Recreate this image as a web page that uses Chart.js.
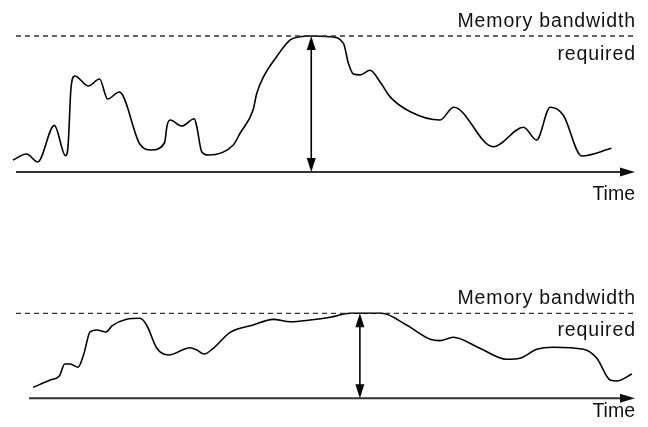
<!DOCTYPE html>
<html>
<head>
<meta charset="utf-8">
<script src="https://cdn.jsdelivr.net/npm/chart.js@4"></script>
<style>
  body { margin: 0; background: #fff; width: 648px; height: 427px; position: relative; overflow: hidden; }
  canvas { position: absolute; left: 0; }
  .lbl { position: absolute; right: 13px; font-family: "Liberation Sans", Arial, sans-serif; font-size: 19.5px; color: #111; line-height: 1; white-space: nowrap; }
  .wide { letter-spacing: 0.85px; margin-right: -0.85px; }
</style>
</head>
<body>
<canvas id="topChart" width="648" height="215" style="top:0"></canvas>
<canvas id="bottomChart" width="648" height="167" style="top:260px"></canvas>

<div class="lbl wide" style="top:11px">Memory bandwidth</div>
<div class="lbl wide" style="top:44px">required</div>
<div class="lbl" style="top:184px">Time</div>
<div class="lbl wide" style="top:288px">Memory bandwidth</div>
<div class="lbl wide" style="top:320px">required</div>
<div class="lbl" style="top:401px">Time</div>

<script>
// time (0-100) and bandwidth (0 = none, 100 = required peak)
const topTime = [-0.5, 1.7, 3.5, 6.2, 8.0, 8.4, 8.9, 9.5, 11.7, 13.5, 14.8, 16.7, 20.0, 21.9, 24.0, 24.4, 24.9,
  26.8, 28.8, 29.2, 30.0, 31.1, 35.1, 36.2, 38.3, 38.9, 40.0, 42.1, 44.3, 45.9, 47.7, 50.7, 52.9, 53.7,
  54.5, 55.6, 57.2, 58.8, 60.4, 63.7, 68.5, 70.7, 77.1, 82.0, 84.1, 86.3, 88.4, 91.4, 96.2];
const topBandwidth = [8.8, 13.2, 7.4, 34.3, 12.0, 18.5, 62.5, 70.6, 63.2, 68.4, 53.7, 58.8, 20.6, 16.2, 21.5, 34.0, 38.2,
  33.8, 39.2, 33.5, 14.9, 12.5, 19.9, 28.5, 45.6, 57.9, 70.1, 84.8, 97.1, 99.5, 100, 99.5, 94.6, 79.9,
  72.0, 71.4, 74.8, 66.4, 55.4, 44.3, 38.2, 47.6, 18.6, 32.9, 23.5, 47.6, 41.9, 11.8, 17.4];
const topPeakTime = 47.7;

const bottomTime = [0.7, 3.5, 5.0, 5.9, 6.8, 8.1, 9.0, 10.1, 11.2, 12.7, 13.7, 16.1, 18.3, 19.4, 21.1, 23.0,
  26.6, 27.7, 28.9, 30.4, 33.2, 37.0, 40.3, 43.1, 46.4, 49.7, 53.0, 58.2, 62.3, 66.2, 67.8, 70.0,
  74.4, 78.8, 81.0, 83.8, 86.5, 91.5, 93.7, 95.9, 97.0, 99.5];
const bottomBandwidth = [12.9, 21.5, 26.2, 40.4, 40.4, 36.5, 50.9, 78.4, 80.4, 78.0, 85.1, 92.9, 94.1, 86.2, 58.8, 50.9,
  59.5, 56.8, 52.1, 58.8, 77.6, 86.2, 92.9, 90.1, 92.1, 95.3, 100, 100, 86.2, 69.4, 67.8, 71.8,
  58.8, 45.9, 47.1, 57.6, 60.0, 57.6, 47.1, 21.5, 20.4, 28.6];
const bottomPeakTime = 54.6;

function toPoints(xs, ys) {
  return xs.map((x, i) => ({ x: x, y: ys[i] }));
}

function arrowHead(ctx, x, y, dx, dy, len, half) {
  // tip at (x,y), pointing along (dx,dy)
  ctx.beginPath();
  ctx.moveTo(x, y);
  ctx.lineTo(x - dx * len - dy * half, y - dy * len + dx * half);
  ctx.lineTo(x - dx * len + dy * half, y - dy * len - dx * half);
  ctx.closePath();
  ctx.fill();
}

const sketchPlugin = {
  id: 'sketch',
  afterDatasetsDraw(chart, args, opts) {
    const ctx = chart.ctx;
    const xs = chart.scales.x;
    const ys = chart.scales.y;
    const y0 = ys.getPixelForValue(0);
    const yMax = ys.getPixelForValue(100);
    const right = xs.getPixelForValue(100);
    ctx.save();

    // dashed "required" level
    ctx.strokeStyle = '#333';
    ctx.lineWidth = 1.3;
    ctx.setLineDash([5, 4]);
    ctx.beginPath();
    ctx.moveTo(opts.dashStart, yMax);
    ctx.lineTo(right, yMax);
    ctx.stroke();
    ctx.setLineDash([]);

    // time axis
    ctx.strokeStyle = '#333';
    ctx.fillStyle = '#111';
    ctx.lineWidth = 2;
    ctx.beginPath();
    ctx.moveTo(xs.getPixelForValue(0), y0);
    ctx.lineTo(right - 10, y0);
    ctx.stroke();
    arrowHead(ctx, right, y0, 1, 0, 15, 4.5);

    // double arrow at the peak
    const px = xs.getPixelForValue(opts.peak);
    ctx.strokeStyle = '#000';
    ctx.fillStyle = '#000';
    ctx.lineWidth = 1.6;
    ctx.beginPath();
    ctx.moveTo(px, yMax + 8);
    ctx.lineTo(px, y0 - 8);
    ctx.stroke();
    arrowHead(ctx, px, yMax, 0, -1, 14, 4.5);
    arrowHead(ctx, px, y0, 0, 1, 14, 4.5);
    ctx.restore();
  }
};

function makeChart(id, xs, ys, peak, padding, dashStart) {
  return new Chart(document.getElementById(id), {
    type: 'line',
    data: {
      datasets: [{
        data: toPoints(xs, ys),
        borderColor: '#000',
        borderWidth: 1.6,
        pointRadius: 0,
        cubicInterpolationMode: 'monotone',
        clip: false,
        fill: false
      }]
    },
    options: {
      responsive: false,
      animation: false,
      devicePixelRatio: 1,
      layout: { padding: padding },
      plugins: {
        legend: { display: false },
        tooltip: { enabled: false },
        sketch: { peak: peak, dashStart: dashStart }
      },
      scales: {
        x: { type: 'linear', min: 0, max: 100, display: false },
        y: { min: 0, max: 100, display: false }
      }
    },
    plugins: [sketchPlugin]
  });
}

makeChart('topChart', topTime, topBandwidth, topPeakTime, { left: 16, right: 13, top: 36, bottom: 43 }, 16);
makeChart('bottomChart', bottomTime, bottomBandwidth, bottomPeakTime, { left: 29, right: 13, top: 53.3, bottom: 28.7 }, 16);
</script>
</body>
</html>
